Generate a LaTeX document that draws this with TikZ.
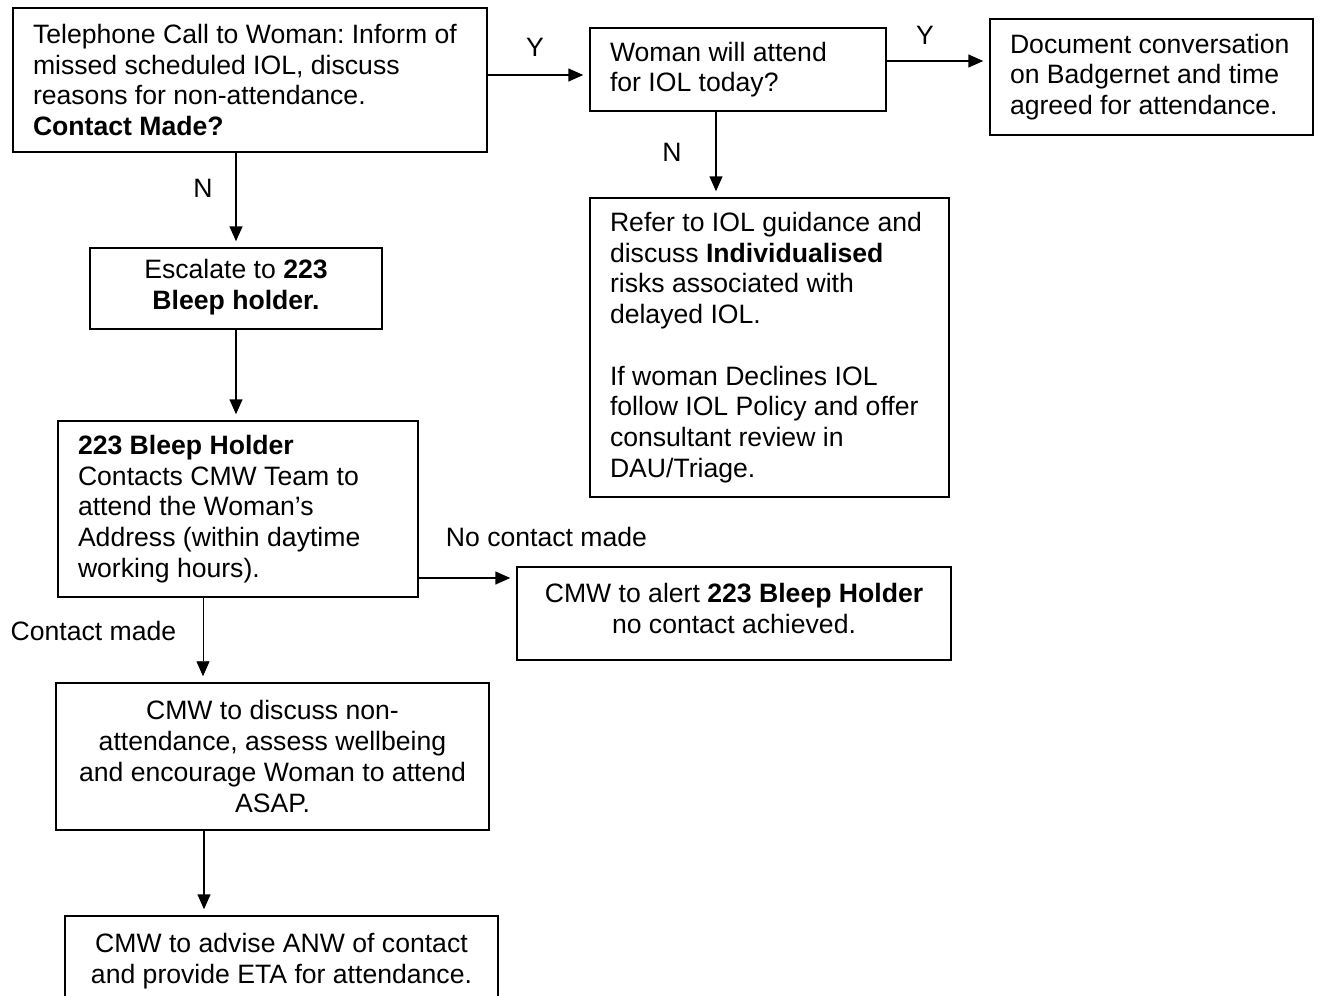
\documentclass[tikz,border=0pt]{standalone}
\usepackage{fontspec}
\setmainfont{Liberation Sans}
\usetikzlibrary{arrows.meta}
\frenchspacing
\begin{document}
\begin{tikzpicture}[x=1pt,y=-1pt,
  txt/.style={font=\fontsize{26.6}{30.7}\selectfont},
  box/.style={txt, draw, line width=1.5pt, inner ysep=0pt},
  lbox/.style={box, align=flush left, inner xsep=20pt},
  cbox/.style={box, align=flush center, inner xsep=10pt},
  arr/.style={line width=1.5pt, -{Triangle[length=15pt,width=13pt]}, shorten >=6pt},
  thinarr/.style={arr, line width=0.9pt},
  lbl/.style={txt, inner sep=0pt}]
\fill[white] (0,0) rectangle (1320,996);
\useasboundingbox (0,0) rectangle (1320,996);

\node[lbox, minimum width=474pt, minimum height=144pt, text width=434pt] (A) at (250,80)
 {Telephone Call to Woman: Inform of\\ missed scheduled IOL, discuss\\ reasons for non-attendance.\\ \textbf{Contact Made?}};
\node[lbox, minimum width=296pt, minimum height=83pt, text width=256pt] (B) at (738,69.5)
 {Woman will attend\\ for IOL today?};
\node[lbox, minimum width=323pt, minimum height=116pt, text width=283pt] (C) at (1151.5,77)
 {Document conversation\\ on Badgernet and time\\ agreed for attendance.};
\node[cbox, minimum width=292pt, minimum height=81pt, text width=272pt] (D) at (236,288.5)
 {Escalate to \textbf{223}\\ \textbf{Bleep holder.}\rule[-8pt]{0pt}{0pt}};
\node[lbox, minimum width=359pt, minimum height=299pt, text width=319pt] (E) at (769.5,347.5)
 {Refer to IOL guidance and\\ discuss \textbf{Individualised}\\ risks associated with\\ delayed IOL.\\[30.7pt] If woman Declines IOL\\ follow IOL Policy and offer\\ consultant review in\\ DAU/Triage.};
\node[lbox, minimum width=360pt, minimum height=176pt, text width=320pt] (F) at (238,509)
 {\textbf{223 Bleep Holder}\\ Contacts CMW Team to\\ attend the Woman’s\\ Address (within daytime\\ working hours).};
\node[cbox, minimum width=434pt, minimum height=93pt, text width=414pt] (G) at (734,613.5)
 {CMW to alert \textbf{223 Bleep Holder}\\ no contact achieved.\rule[-10pt]{0pt}{0pt}};
\node[cbox, minimum width=433pt, minimum height=147pt, text width=413pt] (H) at (272.5,756.5)
 {CMW to discuss non-\\ attendance, assess wellbeing\\ and encourage Woman to attend\\ ASAP.};
\node[cbox, minimum width=433pt, minimum height=90pt, text width=413pt] (I) at (281.5,961)
 {CMW to advise ANW of contact\\ and provide ETA for attendance.};

% labels
\node[lbl] (ly1) at (535,47) {Y};
\node[lbl] (ly2) at (925,35) {Y};
\node[lbl] (ln1) at (672,152) {N};
\node[lbl] (ln2) at (203,188) {N};
\node[lbl] (lno) at (546.5,537) {No contact made};
\node[lbl] (lcm) at (93.5,631) {Contact made};

% connectors
\coordinate (a1) at ([yshift=5pt]A.east);
\draw[arr] (a1) -- (a1 -| B.west);
\coordinate (b1) at ([yshift=8.5pt]B.east);
\draw[arr] (b1) -- (b1 -| C.west);
\coordinate (b2) at ([xshift=-22pt]B.south);
\draw[arr] (b2) -- (b2 |- E.north);
\draw[arr] (D.north |- A.south) -- (D.north);
\draw[arr] (D.south) -- (D.south |- F.north);
\coordinate (f1) at ([yshift=-69pt]F.east);
\draw[arr] (f1) -- (f1 -| G.west);
\coordinate (f2) at ([xshift=-35pt]F.south);
\draw[thinarr] (f2) -- (f2 |- H.north);
\coordinate (h1) at ([xshift=-68.5pt]H.south);
\draw[arr] (h1) -- (h1 |- I.north);
\end{tikzpicture}
\end{document}
